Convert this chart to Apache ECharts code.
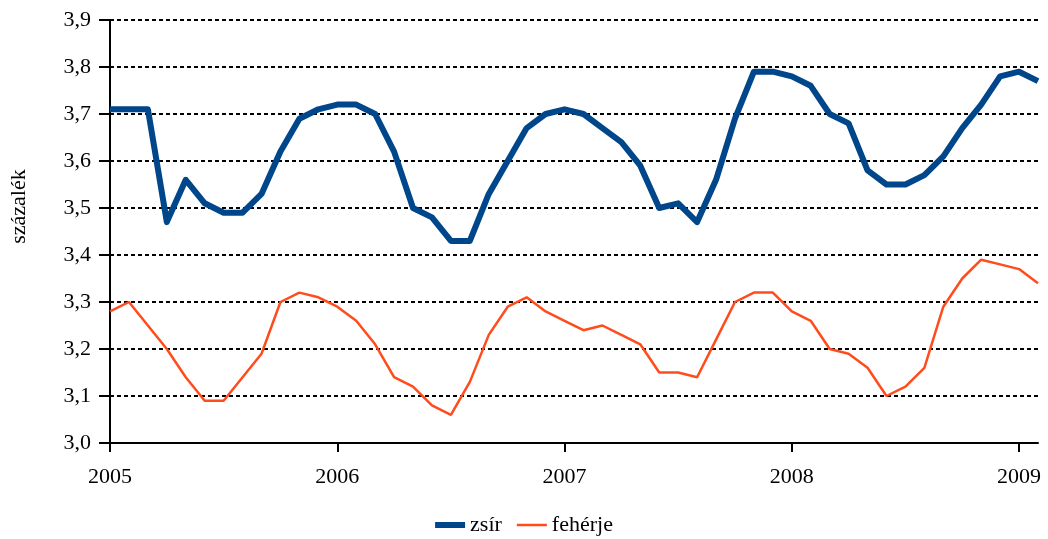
<!DOCTYPE html>
<html>
<head>
<meta charset="utf-8">
<script src="https://cdn.jsdelivr.net/npm/echarts@6/dist/echarts.min.js"></script>
<style>
  html, body { margin: 0; padding: 0; background: #fff; }
  #chart { width: 1048px; height: 539px; }
</style>
</head>
<body>
<div id="chart"></div>
<script>
// havi adatok 2005 jan - 2009 feb
var years = ['2005', '2006', '2007', '2008', '2009'];
var monthCount = 50;

var zsir = [
  3.71, 3.71, 3.71, 3.47, 3.56, 3.51, 3.49, 3.49, 3.53, 3.62, 3.69, 3.71,
  3.72, 3.72, 3.70, 3.62, 3.50, 3.48, 3.43, 3.43, 3.53, 3.60, 3.67, 3.70,
  3.71, 3.70, 3.67, 3.64, 3.59, 3.50, 3.51, 3.47, 3.56, 3.69, 3.79, 3.79,
  3.78, 3.76, 3.70, 3.68, 3.58, 3.55, 3.55, 3.57, 3.61, 3.67, 3.72, 3.78,
  3.79, 3.77
];

var feherje = [
  3.28, 3.30, 3.25, 3.20, 3.14, 3.09, 3.09, 3.14, 3.19, 3.30, 3.32, 3.31,
  3.29, 3.26, 3.21, 3.14, 3.12, 3.08, 3.06, 3.13, 3.23, 3.29, 3.31, 3.28,
  3.26, 3.24, 3.25, 3.23, 3.21, 3.15, 3.15, 3.14, 3.22, 3.30, 3.32, 3.32,
  3.28, 3.26, 3.20, 3.19, 3.16, 3.10, 3.12, 3.16, 3.29, 3.35, 3.39, 3.38,
  3.37, 3.34
];

var months = [];
for (var i = 0; i < monthCount; i++) {
    var y = years[Math.floor(i / 12)];
    var m = (i % 12) + 1;
    months.push(y + '.' + (m < 10 ? '0' + m : m));
}

var font = "'Liberation Serif', 'DejaVu Serif', serif";
var isYearStart = function (idx) { return idx % 12 === 0; };

var chart = echarts.init(document.getElementById('chart'));
chart.setOption({
    animation: false,
    textStyle: { fontFamily: font },
    grid: {
        left: 106,
        right: 10,
        top: 20,
        bottom: 96,
        containLabel: false
    },
    legend: {
        top: 509,
        left: 'center',
        itemWidth: 30,
        itemHeight: 14,
        itemGap: 15,
        textStyle: { fontFamily: font, fontSize: 22, color: '#000' },
        data: [
            { name: 'zsír', icon: 'path://M0,0M30,14M0,4L30,4L30,10L0,10Z' },
            { name: 'fehérje', icon: 'path://M0,0M30,14M0,5.75L30,5.75L30,8.25L0,8.25Z' }
        ]
    },
    xAxis: {
        type: 'category',
        boundaryGap: false,
        data: months,
        axisLine: { lineStyle: { color: '#000', width: 2 } },
        axisTick: {
            interval: isYearStart,
            length: 9,
            lineStyle: { color: '#000', width: 2 }
        },
        axisLabel: {
            interval: isYearStart,
            margin: 23,
            fontFamily: font,
            fontSize: 22,
            color: '#000',
            formatter: function (val) { return val.slice(0, 4); }
        },
        splitLine: { show: false }
    },
    yAxis: {
        type: 'value',
        min: 3.0,
        max: 3.9,
        interval: 0.1,
        name: 'százalék',
        nameLocation: 'middle',
        nameGap: 80,
        nameTextStyle: {
            fontFamily: font,
            fontSize: 22,
            color: '#000',
            padding: [0, 0, 0, 50]
        },
        axisLine: { show: true, lineStyle: { color: '#000', width: 2 } },
        axisTick: {
            show: true,
            length: 11,
            lineStyle: { color: '#000', width: 2 }
        },
        axisLabel: {
            margin: 19,
            fontFamily: font,
            fontSize: 22,
            color: '#000',
            formatter: function (v) { return v.toFixed(1).replace('.', ','); }
        },
        splitLine: {
            show: true,
            lineStyle: { color: '#000', width: 2, type: [4, 3] }
        }
    },
    series: [
        {
            name: 'zsír',
            type: 'line',
            data: zsir,
            symbol: 'none',
            color: '#00468b',
            lineStyle: { color: '#00468b', width: 6, join: 'round' }
        },
        {
            name: 'fehérje',
            type: 'line',
            data: feherje,
            symbol: 'none',
            color: '#ff4c1c',
            lineStyle: { color: '#ff4c1c', width: 2.5 }
        }
    ]
});
</script>
</body>
</html>
